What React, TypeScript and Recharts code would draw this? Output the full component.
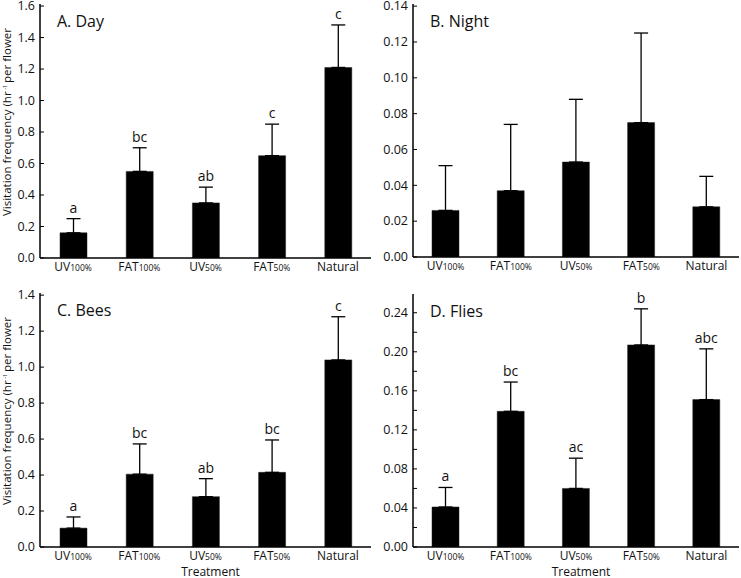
import { BarChart, Bar, XAxis, YAxis, ErrorBar, LabelList } from "recharts"

// treatment names: base + small subscript part
const treatmentBase = ["UV", "FAT", "UV", "FAT", "Natural"]
const treatmentSub = ["100%", "100%", "50%", "50%", ""]

// A. Day
const dayMean = [0.16, 0.55, 0.35, 0.65, 1.21]
const daySE = [0.09, 0.15, 0.1, 0.2, 0.27]
const dayLetters = ["a", "bc", "ab", "c", "c"]
const dayTicks = [0, 0.2, 0.4, 0.6, 0.8, 1.0, 1.2, 1.4, 1.6]

// B. Night
const nightMean = [0.026, 0.037, 0.053, 0.075, 0.028]
const nightSE = [0.025, 0.037, 0.035, 0.05, 0.017]
const nightTicks = [0, 0.02, 0.04, 0.06, 0.08, 0.1, 0.12, 0.14]

// C. Bees
const beesMean = [0.105, 0.405, 0.28, 0.415, 1.04]
const beesSE = [0.062, 0.168, 0.1, 0.18, 0.24]
const beesLetters = ["a", "bc", "ab", "bc", "c"]
const beesTicks = [0, 0.2, 0.4, 0.6, 0.8, 1.0, 1.2, 1.4]

// D. Flies
const fliesMean = [0.041, 0.139, 0.06, 0.207, 0.151]
const fliesSE = [0.02, 0.03, 0.031, 0.037, 0.052]
const fliesLetters = ["a", "bc", "ac", "b", "abc"]
const fliesTicks = [0, 0.02, 0.04, 0.06, 0.08, 0.1, 0.12, 0.14, 0.16, 0.18, 0.2, 0.22, 0.24]
const fliesLabelTicks = [0, 0.04, 0.08, 0.12, 0.16, 0.2, 0.24]

const FONT = "'Open Sans', 'Noto Sans', sans-serif"

const buildRows = (mean: number[], se: number[], letters?: string[]) =>
  mean.map((m, i) => ({
    name: treatmentBase[i] + treatmentSub[i],
    mean: m,
    err: [0, se[i]],
    top: m + se[i],
    letter: letters ? letters[i] : "",
  }))

function TreatmentTick(props: any) {
  const { x, y, payload } = props
  const i = treatmentBase.findIndex((b, k) => b + treatmentSub[k] === payload.value)
  return (
    <text x={x} y={y + 13} textAnchor="middle" fontFamily={FONT} fill="#111">
      <tspan fontSize={12}>{treatmentBase[i]}</tspan>
      {treatmentSub[i] && <tspan fontSize={8.5}>{treatmentSub[i]}</tspan>}
    </text>
  )
}

type PanelProps = {
  left: number
  top: number
  width: number
  height: number
  margin: { top: number; right: number; left: number; bottom: number }
  yWidth: number
  xHeight: number
  rows: ReturnType<typeof buildRows>
  max: number
  ticks: number[]
  labelTicks: number[]
  digits: number
  title: string
  letters: boolean
  yLabel: boolean
  xLabel: boolean
}

function Panel(p: PanelProps) {
  const plotLeft = p.margin.left + p.yWidth
  const plotTop = p.margin.top
  const plotBottom = p.height - p.margin.bottom - p.xHeight
  const plotRight = p.width - p.margin.right

  const LeftTick = (t: any) => {
    const v = t.payload.value
    const show = p.labelTicks.includes(v)
    return (
      <g>
        <line x1={t.x} x2={t.x + 4} y1={t.y} y2={t.y} stroke="#000" strokeWidth={1} />
        {show && (
          <text x={t.x - 5} y={t.y + 4.3} textAnchor="end" fontSize={12.5} fontFamily={FONT} fill="#111">
            {v.toFixed(p.digits)}
          </text>
        )}
      </g>
    )
  }
  const RightTick = (t: any) => (
    <line x1={t.x} x2={t.x - 4} y1={t.y} y2={t.y} stroke="#000" strokeWidth={1} />
  )

  return (
    <div style={{ position: "absolute", left: p.left, top: p.top }}>
      <BarChart width={p.width} height={p.height} data={p.rows} margin={p.margin} barCategoryGap={0}>
        <XAxis
          dataKey="name"
          height={p.xHeight}
          tickLine={false}
          tickSize={0}
          tickMargin={0}
          interval={0}
          axisLine={{ stroke: "#000", strokeWidth: 1.5 }}
          tick={<TreatmentTick />}
        />
        <XAxis
          xAxisId="t"
          dataKey="name"
          orientation="top"
          height={0}
          tick={false}
          tickLine={false}
          axisLine={{ stroke: "#000", strokeWidth: 1.5 }}
        />
        <YAxis
          width={p.yWidth}
          domain={[0, p.max]}
          ticks={p.ticks}
          interval={0}
          tickLine={false}
          tickSize={0}
          tickMargin={0}
          allowDataOverflow
          axisLine={{ stroke: "#000", strokeWidth: 1.5 }}
          tick={<LeftTick />}
        />
        <YAxis
          yAxisId="r"
          orientation="right"
          width={0}
          domain={[0, p.max]}
          ticks={p.ticks}
          interval={0}
          tickLine={false}
          tickSize={0}
          tickMargin={0}
          axisLine={{ stroke: "#000", strokeWidth: 1.5 }}
          tick={<RightTick />}
        />
        <Bar dataKey="mean" fill="#000" stroke="#222" strokeWidth={0.5} barSize={27} isAnimationActive={false}>
          <ErrorBar dataKey="err" width={7} stroke="#000" strokeWidth={1.3} direction="y" />
          {p.letters && (
            <LabelList
              dataKey="letter"
              content={(l: any) => {
                const row = p.rows[l.index]
                const pxPerUnit = l.height / row.mean
                const ty = l.y + l.height - row.top * pxPerUnit
                return (
                  <text x={l.x + l.width / 2} y={ty - 6} textAnchor="middle" fontSize={14} fontFamily={FONT} fill="#111">
                    {l.value}
                  </text>
                )
              }}
            />
          )}
        </Bar>
        <text x={plotLeft + 17} y={plotTop + 23} fontSize={16} fontFamily={FONT} fill="#111">
          {p.title}
        </text>
        {p.yLabel && (
          <text
            transform={`translate(11, ${(plotTop + plotBottom) / 2 - 9}) rotate(-90)`}
            textAnchor="middle"
            fontSize={11.5}
            fontFamily={FONT}
            fill="#111"
          >
            Visitation frequency (hr
            <tspan fontSize={6} dy={-4}>
              {" "}-1{" "}
            </tspan>
            <tspan dy={4}>per flower</tspan>
          </text>
        )}
        {p.xLabel && (
          <text x={(plotLeft + plotRight) / 2 + 5} y={p.height - 2} textAnchor="middle" fontSize={12} fontFamily={FONT} fill="#111">
            Treatment
          </text>
        )}
      </BarChart>
    </div>
  )
}

export default function App() {
  return (
    <div style={{ position: "absolute", left: 0, top: 0, width: 741, height: 578, background: "#fff" }}>
      <Panel
        left={0}
        top={0}
        width={372}
        height={288}
        margin={{ top: 4, right: 1, left: 0, bottom: 0 }}
        yWidth={40}
        xHeight={30}
        rows={buildRows(dayMean, daySE, dayLetters)}
        max={1.613}
        ticks={dayTicks}
        labelTicks={dayTicks}
        digits={1}
        title="A. Day"
        letters
        yLabel
        xLabel={false}
      />
      <Panel
        left={372}
        top={0}
        width={369}
        height={288}
        margin={{ top: 4, right: 2, left: 0, bottom: 0 }}
        yWidth={41}
        xHeight={31}
        rows={buildRows(nightMean, nightSE)}
        max={0.1412}
        ticks={nightTicks}
        labelTicks={nightTicks}
        digits={2}
        title="B. Night"
        letters={false}
        yLabel={false}
        xLabel={false}
      />
      <Panel
        left={0}
        top={288}
        width={372}
        height={290}
        margin={{ top: 5, right: 1, left: 0, bottom: 0 }}
        yWidth={40}
        xHeight={31}
        rows={buildRows(beesMean, beesSE, beesLetters)}
        max={1.412}
        ticks={beesTicks}
        labelTicks={beesTicks}
        digits={1}
        title="C. Bees"
        letters
        yLabel
        xLabel
      />
      <Panel
        left={372}
        top={288}
        width={369}
        height={290}
        margin={{ top: 6, right: 2, left: 0, bottom: 0 }}
        yWidth={41}
        xHeight={31}
        rows={buildRows(fliesMean, fliesSE, fliesLetters)}
        max={0.2592}
        ticks={fliesTicks}
        labelTicks={fliesLabelTicks}
        digits={2}
        title="D. Flies"
        letters
        yLabel={false}
        xLabel
      />
    </div>
  )
}
